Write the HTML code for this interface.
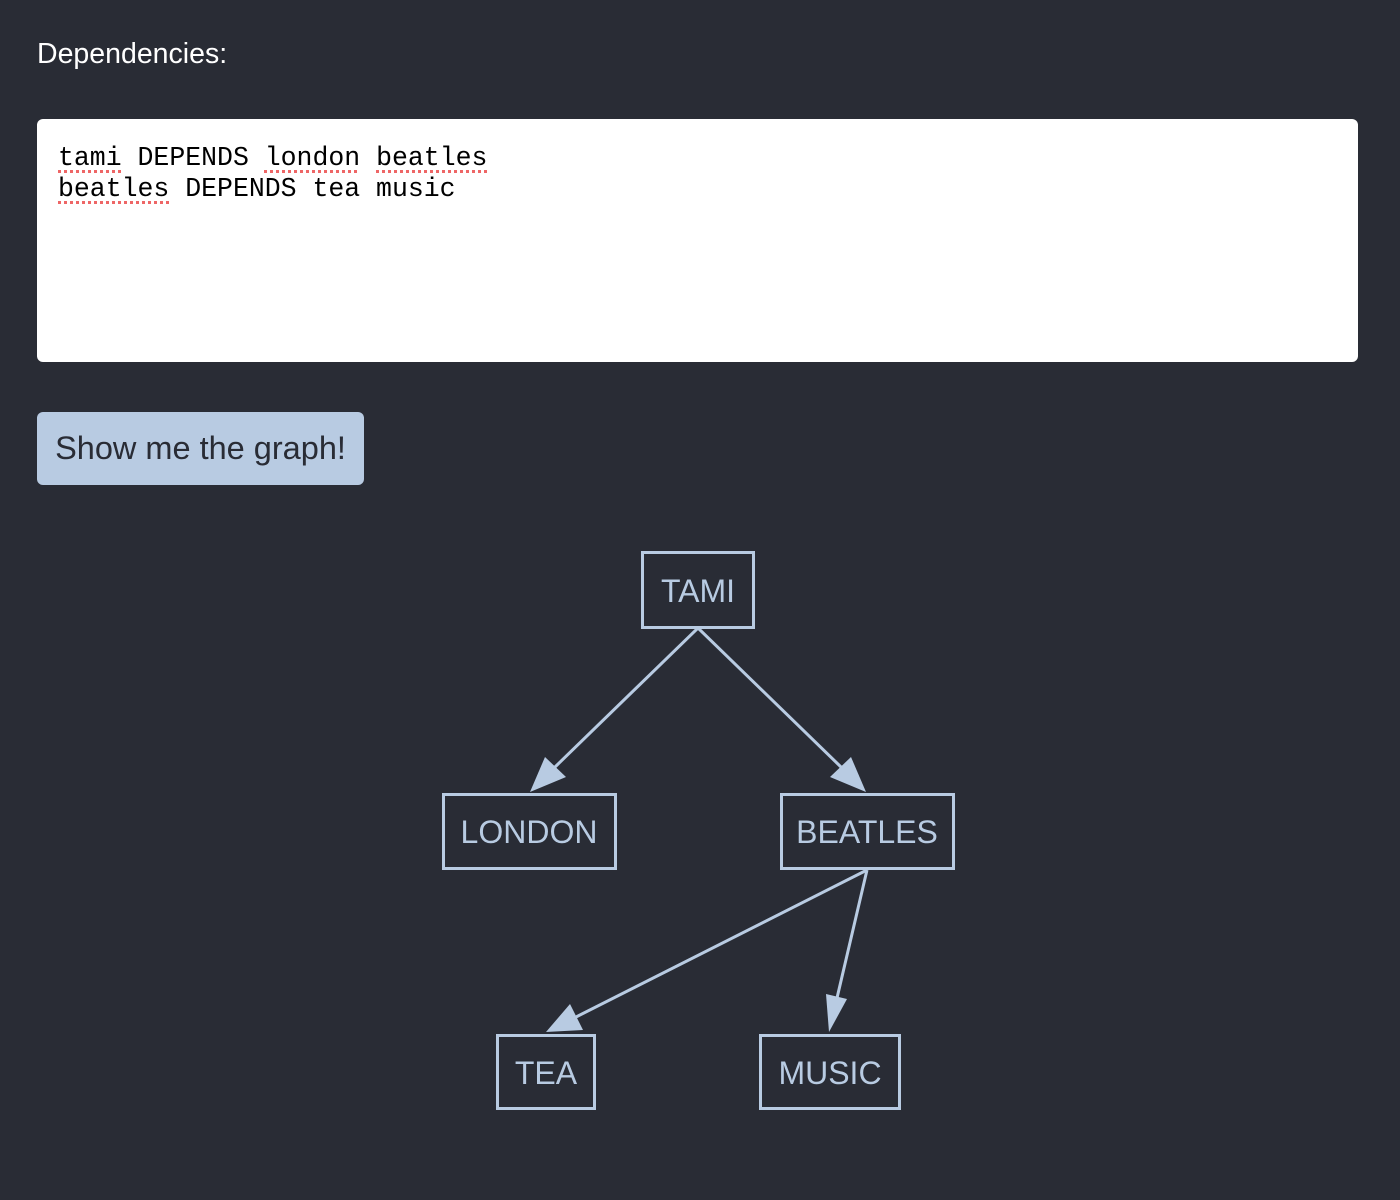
<!DOCTYPE html>
<html><head><style>
html,body{margin:0;padding:0;background:#292c35;width:1400px;height:1200px;overflow:hidden;font-family:"Liberation Sans",sans-serif}
.lbl{position:absolute;left:37px;top:38px;color:#fff;font-size:28.5px}
.ta{position:absolute;left:37px;top:119px;width:1321px;height:243px;background:#fff;border-radius:6px}
.code{position:absolute;left:58px;top:143px;font-family:"Liberation Mono",monospace;font-size:26.5px;line-height:31px;color:#000;white-space:pre}
.sq{text-decoration:underline dotted #e66;text-decoration-thickness:3px;text-underline-offset:5px}
.btn{position:absolute;left:37px;top:412px;width:327px;height:73px;background:#b8cbe2;border-radius:6px;color:#292c35;font-size:32.5px;line-height:73px;text-align:center}
svg{position:absolute;left:0;top:0}
</style></head><body>
<div class="lbl">Dependencies:</div>
<div class="ta"></div>
<div class="code"><span class="sq">tami</span> DEPENDS <span class="sq">london</span> <span class="sq">beatles</span>
<span class="sq">beatles</span> DEPENDS tea music</div>
<div class="btn">Show me the graph!</div>
<svg width="1400" height="1200">
<g stroke="#b8cbe2" stroke-width="3" fill="none">
<rect x="642.5" y="552.5" width="111" height="75"/>
<rect x="443.5" y="794.5" width="172" height="74"/>
<rect x="781.5" y="794.5" width="172" height="74"/>
<rect x="497.5" y="1035.5" width="97" height="73"/>
<rect x="760.5" y="1035.5" width="139" height="73"/>
</g>
<g fill="#b8cbe2">
<line x1="698" y1="628" x2="555" y2="767" stroke="#b8cbe2" stroke-width="3"/>
<polygon points="530,792 545,757 566,777"/>
<line x1="698" y1="628" x2="841" y2="767" stroke="#b8cbe2" stroke-width="3"/>
<polygon points="866,792 830,777 851,757"/>
<line x1="867" y1="870" x2="576" y2="1017" stroke="#b8cbe2" stroke-width="3"/>
<polygon points="546,1032 570,1004 583,1030"/>
<line x1="867" y1="870" x2="837" y2="998" stroke="#b8cbe2" stroke-width="3"/>
<polygon points="829,1032 826,994 847,999"/>
</g>
<g fill="#b8cbe2" font-family="Liberation Sans,sans-serif" font-size="32" text-anchor="middle">
<text x="698" y="602">TAMI</text>
<text x="529" y="843">LONDON</text>
<text x="867" y="843">BEATLES</text>
<text x="546" y="1084">TEA</text>
<text x="830" y="1084">MUSIC</text>
</g>
</svg>
</body></html>
